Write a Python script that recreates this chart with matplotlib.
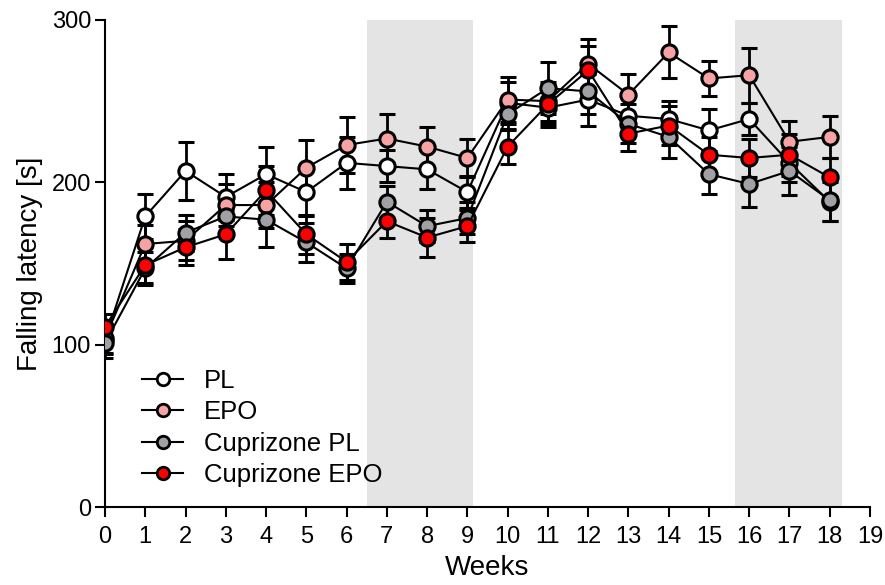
import matplotlib
matplotlib.use("Agg")
import matplotlib.pyplot as plt
from matplotlib.lines import Line2D

weeks = list(range(19))

pl = [103, 179, 207, 191, 205, 194, 212, 210, 208, 194, 249, 246, 251, 241, 239, 232, 239, 212, 188]
pl_err = [9, 14, 18, 14, 17, 15, 16, 10, 12, 10, 13, 12, 16, 12, 11, 13, 10, 12, 12]

epo = [104, 162, 164, 186, 186, 209, 223, 227, 222, 215, 251, 250, 273, 254, 280, 264, 266, 225, 228]
epo_err = [9, 12, 12, 13, 14, 17, 17, 15, 12, 12, 14, 12, 15, 13, 16, 11, 17, 13, 13]

cpz_pl = [101, 147, 169, 179, 177, 163, 147, 188, 173, 178, 242, 258, 256, 236, 228, 205, 199, 207, 189]
cpz_pl_err = [9, 10, 11, 12, 17, 12, 9, 10, 10, 10, 10, 16, 14, 12, 13, 12, 14, 15, 13]

cpz_epo = [111, 149, 160, 168, 195, 168, 151, 176, 166, 173, 222, 248, 269, 230, 235, 217, 215, 217, 203]
cpz_epo_err = [8, 11, 11, 15, 15, 12, 11, 10, 12, 10, 11, 12, 15, 11, 12, 11, 12, 13, 12]

series = [
    ("PL", pl, pl_err, "white"),
    ("EPO", epo, epo_err, "#F7A3A3"),
    ("Cuprizone PL", cpz_pl, cpz_pl_err, "#A0A0A5"),
    ("Cuprizone EPO", cpz_epo, cpz_epo_err, "#FF0000"),
]

shaded = [(6.5, 9.15), (15.65, 18.3)]

plt.rcParams['font.family'] = ["Liberation Sans", "DejaVu Sans"]

fig = plt.figure(figsize=(8.85, 5.85), dpi=100)
ax = fig.add_axes([105 / 885, 78 / 585, 765 / 885, 487 / 585])

for a, b in shaded:
    ax.axvspan(a, b, color="#E4E4E4", lw=0, zorder=0)

handles = []
for name, y, e, c in series:
    ax.errorbar(weeks, y, yerr=e, color="black", lw=1.5, elinewidth=2,
                capsize=6, capthick=2, marker="o", markersize=11,
                markerfacecolor=c, markeredgecolor="black",
                markeredgewidth=2.2, zorder=3)
    handles.append(Line2D([], [], color="black", lw=1.5, marker="o",
                          markersize=9, markerfacecolor=c,
                          markeredgecolor="black", markeredgewidth=2,
                          label=name))

ax.set_xlim(0, 19)
ax.set_ylim(0, 300)
ax.set_xticks(range(20))
ax.set_yticks([0, 100, 200, 300])
for s in ["top", "right"]:
    ax.spines[s].set_visible(False)
for s in ["left", "bottom"]:
    ax.spines[s].set_linewidth(1.5)
ax.tick_params(axis="both", direction="out", width=1.5, length=7,
               labelsize=17)
ax.tick_params(axis="x", pad=7)
ax.tick_params(axis="y", pad=3)

ax.set_xlabel("Weeks", fontsize=20, labelpad=5)
ax.set_ylabel("Falling latency [s]", fontsize=20, labelpad=6)

ax.legend(handles=handles, loc="upper left", bbox_to_anchor=(0.035, 0.304),
          frameon=False, fontsize=18.5, handlelength=1.6, handletextpad=0.8,
          labelspacing=0.28, borderaxespad=0)

fig.savefig("out.png", dpi=100)
